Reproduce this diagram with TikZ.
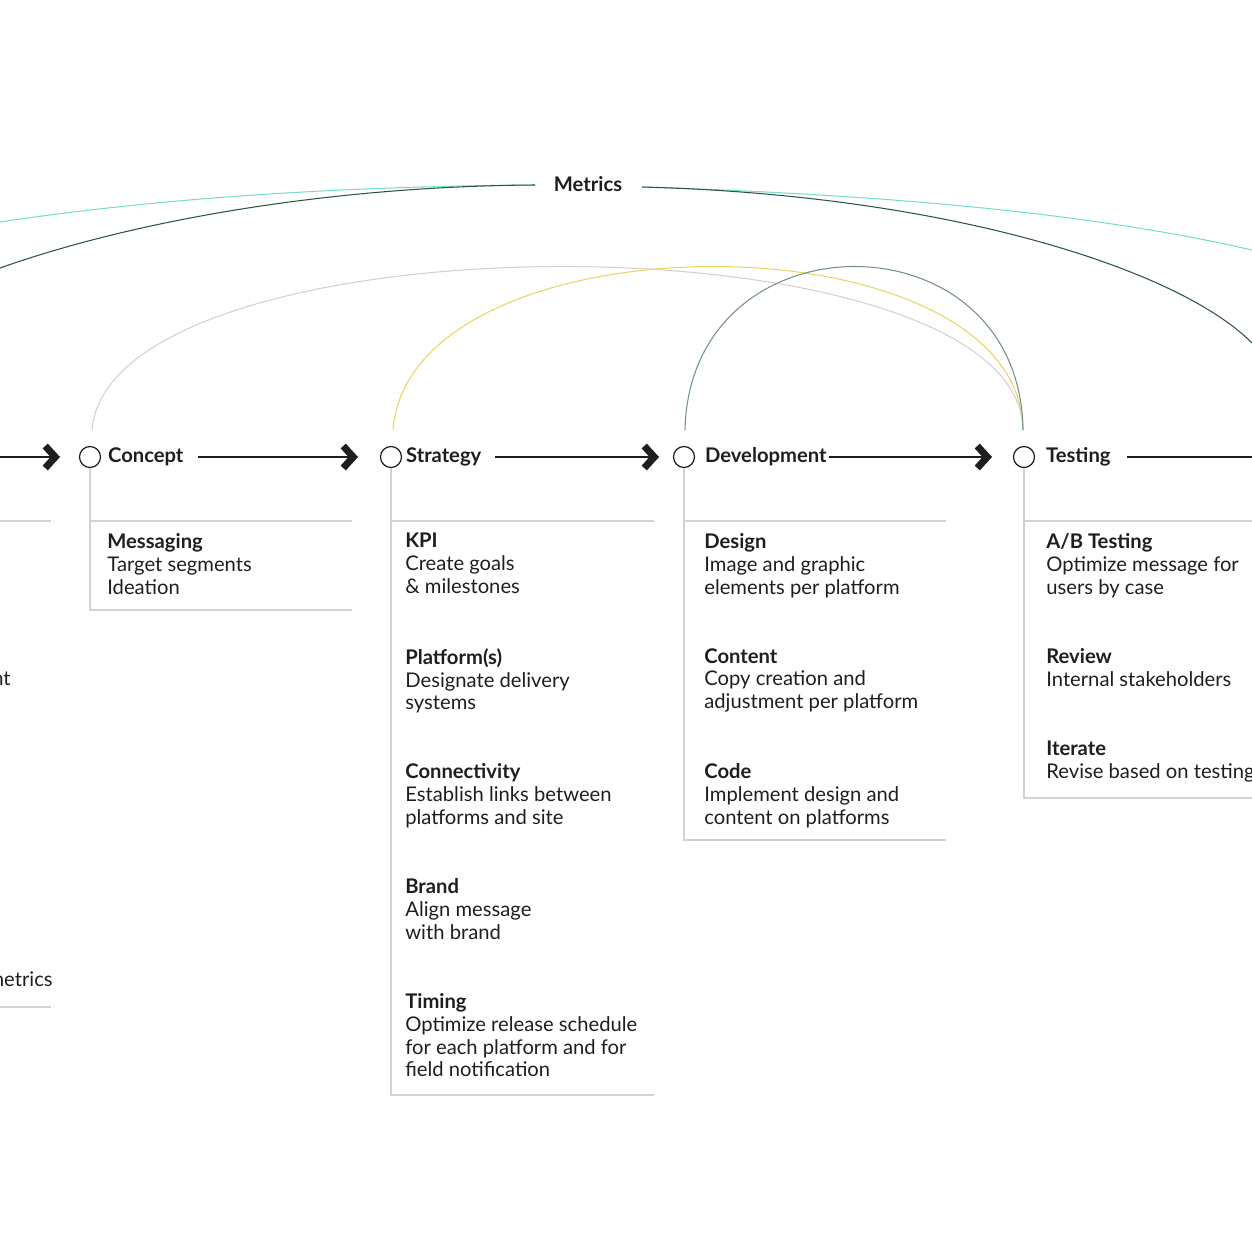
\documentclass[tikz,border=0pt]{standalone}
\usepackage{fontspec}
\setmainfont{Lato}
\usetikzlibrary{arrows.meta, positioning}
\definecolor{tealm}{RGB}{120,220,205}
\definecolor{darkm}{RGB}{45,85,65}
\definecolor{arcc}{RGB}{215,205,210}
\definecolor{arcs}{RGB}{232,212,100}
\definecolor{arcd}{RGB}{115,145,135}
\definecolor{rule}{RGB}{210,210,210}
\definecolor{ink}{RGB}{30,30,30}
\newcommand{\blk}[2]{\textbf{#1}\\#2}

\begin{document}
\begin{tikzpicture}[x=0.02cm,y=-0.02cm,
  phase/.style={circle,draw=ink,line width=0.7pt,minimum size=0.42cm,inner sep=0pt},
  lbl/.style={anchor=west,font=\fontsize{11.5}{13}\selectfont\bfseries,text=ink,inner sep=1pt},
  txt/.style={anchor=north west,align=left,font=\fontsize{11.5}{13}\selectfont,text=ink,inner sep=0pt},
  flow/.style={draw=ink,line width=0.7pt,-{Straight Barb[length=2mm,width=4.4mm,line width=4pt]}},
  box/.style={draw=rule,line width=0.6pt},
  arc/.style={line width=0.6pt}]
\useasboundingbox (0,0) rectangle (1252,1252);
\clip (0,0) rectangle (1252,1252);

% metrics
\node[font=\fontsize{11.5}{13}\selectfont\bfseries,text=ink] (metrics) at (588,184) {Metrics};
\coordinate (ml1) at (0,222);
\coordinate (ml2) at (0,268);
\coordinate (mr1) at (1252,250);
\coordinate (mr2) at (1252,343);
\coordinate (mL) at (535,185);
\coordinate (mR) at (642,187);
\draw[arc,tealm] (ml1) .. controls (200,192) and (400,186) .. (mL);
\draw[arc,darkm] (ml2) .. controls (150,215) and (350,186) .. (mL);
\draw[arc,tealm] (mR) .. controls (900,195) and (1100,215) .. (mr1);
\draw[arc,darkm] (mR) .. controls (950,195) and (1180,270) .. (mr2);

% phases
\node[phase] (c) at (90,457) {};
\node[phase] (s) at (391,457) {};
\node[phase] (d) at (684,457) {};
\node[phase] (t) at (1024,457) {};
\node[lbl] (cl) at (106,457) {Concept};
\node[lbl] (sl) at (404,457) {Strategy};
\node[lbl] (dl) at (703,457) {Development};
\node[lbl] (tl) at (1044,457) {Testing};
\coordinate (l0) at (0,457);
\coordinate (r0) at (1252,457);
\coordinate (ca) at (60,457);
\coordinate (sa) at (358,457);
\coordinate (da) at (659,457);
\coordinate (ta) at (992,457);
\draw[flow] (l0) -- (ca);
\draw[flow] (cl.east) ++(12,0) -- (sa);
\draw[flow] (sl.east) ++(12,0) -- (da);
\draw[flow] (dl.east) -- (ta);
\draw[draw=ink,line width=0.7pt] (tl.east) ++(14,0) -- (r0);

% arcs
\coordinate (ce) at (92,430);
\coordinate (se) at (393,430);
\coordinate (de) at (685,430);
\coordinate (te) at (1023,430);
\draw[arc,arcc] (ce) .. controls (110,212) and (1020,212) .. (te);
\draw[arc,arcs] (se) .. controls (410,212) and (1020,212) .. (te);
\draw[arc,arcd] (de) .. controls (690,212) and (1020,212) .. (te);

% boxes
\draw[box] (0,521) -- (51,521);
\draw[box] (0,1007) -- (51,1007);
\draw[box] (c.south) -- (90,610) -- (352,610);
\draw[box] (90,521) -- (352,521);
\draw[box] (s.south) -- (391,1095) -- (654,1095);
\draw[box] (391,521) -- (654,521);
\draw[box] (d.south) -- (684,840) -- (946,840);
\draw[box] (684,521) -- (946,521);
\draw[box] (t.south) -- (1024,798) -- (1252,798);
\draw[box] (1024,521) -- (1252,521);

% texts
\node[txt,anchor=north east] (x1) at (11,672) {nt};
\node[txt,anchor=north east] (x2) at (53,971) {metrics};
\node[txt] (c1) at (107,533) {\blk{Messaging}{Target segments\\Ideation}};
\node[txt] (s1) at (405,533) {\blk{KPI}{Create goals\\\& milestones}};
\node[txt] (s2) at (405,648) {\blk{Platform(s)}{Designate delivery\\systems}};
\node[txt] (s3) at (405,763) {\blk{Connectivity}{Establish links between\\platforms and site}};
\node[txt] (s4) at (405,878) {\blk{Brand}{Align message\\with brand}};
\node[txt] (s5) at (405,993) {\blk{Timing}{Optimize release schedule\\for each platform and for\\field notification}};
\node[txt] (d1) at (704,533) {\blk{Design}{Image and graphic\\elements per platform}};
\node[txt] (d2) at (704,648) {\blk{Content}{Copy creation and\\adjustment per platform}};
\node[txt] (d3) at (704,763) {\blk{Code}{Implement design and\\content on platforms}};
\node[txt] (t1) at (1046,533) {\blk{A/B Testing}{Optimize message for\\users by case}};
\node[txt] (t2) at (1046,648) {\blk{Review}{Internal stakeholders}};
\node[txt] (t3) at (1046,741) {\blk{Iterate}{Revise based on testing}};
\end{tikzpicture}
\end{document}
